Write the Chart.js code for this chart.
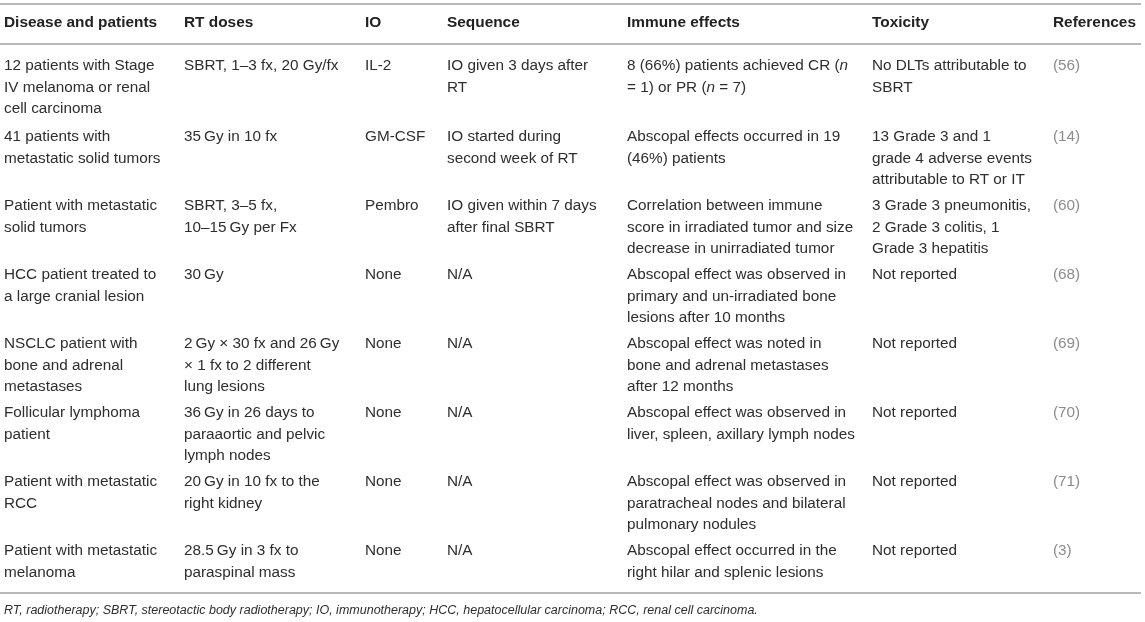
<!DOCTYPE html>
<html>
<head>
<meta charset="utf-8">
<script src="https://cdn.jsdelivr.net/npm/chart.js@4/dist/chart.umd.min.js"></script>
<style>
  html, body { margin: 0; padding: 0; background: #fff; }
  #wrap { width: 1145px; height: 622px; position: relative; }
</style>
</head>
<body>
<div id="wrap"><canvas id="table"></canvas></div>
<script>
// table content, one entry per row; cell text is kept line by line as printed
const headers = ['Disease and patients', 'RT doses', 'IO', 'Sequence', 'Immune effects', 'Toxicity', 'References'];

const diseases = [
  ['12 patients with Stage', 'IV melanoma or renal', 'cell carcinoma'],
  ['41 patients with', 'metastatic solid tumors'],
  ['Patient with metastatic', 'solid tumors'],
  ['HCC patient treated to', 'a large cranial lesion'],
  ['NSCLC patient with', 'bone and adrenal', 'metastases'],
  ['Follicular lymphoma', 'patient'],
  ['Patient with metastatic', 'RCC'],
  ['Patient with metastatic', 'melanoma']
];

const rtDoses = [
  ['SBRT, 1–3 fx, 20 Gy/fx'],
  ['35\u2009Gy in 10 fx'],
  ['SBRT, 3–5 fx,', '10–15\u2009Gy per Fx'],
  ['30\u2009Gy'],
  ['2\u2009Gy × 30 fx and 26\u2009Gy', '× 1 fx to 2 different', 'lung lesions'],
  ['36\u2009Gy in 26 days to', 'paraaortic and pelvic', 'lymph nodes'],
  ['20\u2009Gy in 10 fx to the', 'right kidney'],
  ['28.5\u2009Gy in 3 fx to', 'paraspinal mass']
];

const immunotherapy = ['IL-2', 'GM-CSF', 'Pembro', 'None', 'None', 'None', 'None', 'None'];

const sequences = [
  ['IO given 3 days after', 'RT'],
  ['IO started during', 'second week of RT'],
  ['IO given within 7 days', 'after final SBRT'],
  ['N/A'], ['N/A'], ['N/A'], ['N/A'], ['N/A']
];

// text between underscores is set in italics
const immuneEffects = [
  ['8 (66%) patients achieved CR (_n_', '= 1) or PR (_n_ = 7)'],
  ['Abscopal effects occurred in 19', '(46%) patients'],
  ['Correlation between immune', 'score in irradiated tumor and size', 'decrease in unirradiated tumor'],
  ['Abscopal effect was observed in', 'primary and un-irradiated bone', 'lesions after 10 months'],
  ['Abscopal effect was noted in', 'bone and adrenal metastases', 'after 12 months'],
  ['Abscopal effect was observed in', 'liver, spleen, axillary lymph nodes'],
  ['Abscopal effect was observed in', 'paratracheal nodes and bilateral', 'pulmonary nodules'],
  ['Abscopal effect occurred in the', 'right hilar and splenic lesions']
];

const toxicities = [
  ['No DLTs attributable to', 'SBRT'],
  ['13 Grade 3 and 1', 'grade 4 adverse events', 'attributable to RT or IT'],
  ['3 Grade 3 pneumonitis,', '2 Grade 3 colitis, 1', 'Grade 3 hepatitis'],
  ['Not reported'], ['Not reported'], ['Not reported'], ['Not reported'], ['Not reported']
];

const references = ['(56)', '(14)', '(60)', '(68)', '(69)', '(70)', '(71)', '(3)'];

const footnote = 'RT, radiotherapy; SBRT, stereotactic body radiotherapy; IO, immunotherapy; HCC, hepatocellular carcinoma; RCC, renal cell carcinoma.';

// layout, in scale units (the scales span the page)
const COL_X = [4, 184, 365, 447, 627, 872, 1053];
const ROW_Y = [66, 137, 206, 275, 344, 413, 482, 551];
const HEADER_Y = 23;
const LINE_STEP = 21.5;
const RULES_Y = [4, 44, 593];
const FOOT_Y = 611;
const FONT = '"Liberation Sans", Arial, Helvetica, sans-serif';
const BODY_SIZE = 15.3;
const HEAD_SIZE = 15.4;

function drawRich(ctx, text, x, y, size) {
  const parts = text.split('_');
  let cx = x;
  parts.forEach((part, i) => {
    ctx.font = (i % 2 ? 'italic ' : '') + size + 'px ' + FONT;
    ctx.fillText(part, cx, y);
    cx += ctx.measureText(part).width;
  });
}

const tablePlugin = {
  id: 'tablePlugin',
  afterDraw(chart) {
    const ctx = chart.ctx;
    const xs = chart.scales.x;
    const ys = chart.scales.y;
    ctx.save();
    ctx.textBaseline = 'middle';
    ctx.textAlign = 'left';

    // horizontal rules
    ctx.strokeStyle = '#b9b9b9';
    ctx.lineWidth = 2;
    RULES_Y.forEach(v => {
      const py = ys.getPixelForValue(v);
      ctx.beginPath();
      ctx.moveTo(xs.getPixelForValue(0), py);
      ctx.lineTo(xs.getPixelForValue(1141), py);
      ctx.stroke();
    });

    // header
    ctx.fillStyle = '#222';
    ctx.font = 'bold ' + HEAD_SIZE + 'px ' + FONT;
    headers.forEach((h, c) => {
      ctx.fillText(h, xs.getPixelForValue(COL_X[c]), ys.getPixelForValue(HEADER_Y));
    });

    // body cells
    const columns = [diseases, rtDoses, immunotherapy, sequences, immuneEffects, toxicities, references];
    columns.forEach((col, c) => {
      col.forEach((cell, r) => {
        const lines = Array.isArray(cell) ? cell : [cell];
        ctx.fillStyle = c === 6 ? '#8c8c8c' : '#2e2e2e';
        lines.forEach((line, k) => {
          drawRich(ctx, line, xs.getPixelForValue(COL_X[c]),
            ys.getPixelForValue(ROW_Y[r] + k * LINE_STEP), BODY_SIZE);
        });
      });
    });

    // footnote
    ctx.fillStyle = '#2e2e2e';
    ctx.font = 'italic 12.5px ' + FONT;
    ctx.fillText(footnote, xs.getPixelForValue(COL_X[0]), ys.getPixelForValue(FOOT_Y));
    ctx.restore();
  }
};

new Chart(document.getElementById('table'), {
  type: 'scatter',
  data: { datasets: [] },
  options: {
    responsive: true,
    maintainAspectRatio: false,
    animation: false,
    events: [],
    layout: { padding: 0 },
    scales: {
      x: { type: 'linear', min: 0, max: 1145, display: false },
      y: { type: 'linear', min: 0, max: 622, reverse: true, display: false }
    },
    plugins: { legend: { display: false }, tooltip: { enabled: false } }
  },
  plugins: [tablePlugin]
});
</script>
</body>
</html>
